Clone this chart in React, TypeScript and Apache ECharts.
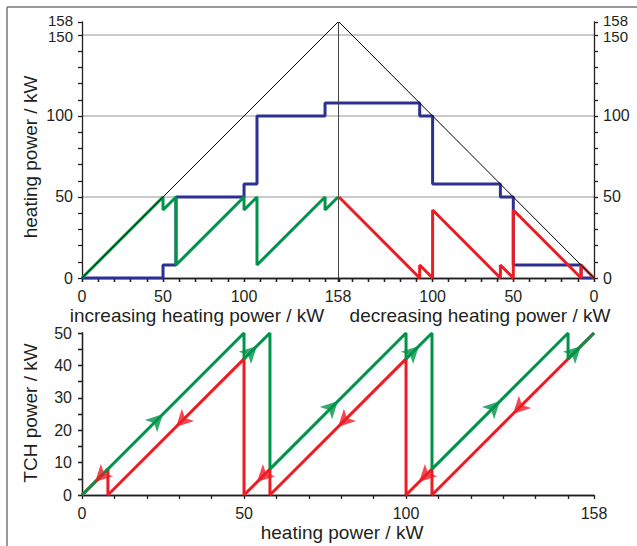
import React, { useEffect, useRef } from 'react';
import * as echarts from 'echarts';

// increasing heating power: TCH power (green) and other generators (blue)
const incX = [0, 50, 50, 58, 58, 100, 100, 108, 108, 150, 150, 158];
const incTCH = [0, 50, 42, 50, 8, 50, 42, 50, 8, 50, 42, 50];
const incOther = [0, 0, 8, 8, 50, 50, 58, 58, 100, 100, 108, 108];
// decreasing heating power: TCH power (red) and other generators (blue)
const decX = [158, 108, 108, 100, 100, 58, 58, 50, 50, 8, 8, 0];
const decTCH = [50, 0, 8, 0, 42, 0, 8, 0, 42, 0, 8, 0];
const decOther = [108, 108, 100, 100, 58, 58, 50, 50, 8, 8, 0, 0];
// total heating power diagonal
const diagX = [0, 158];
const diagY = [0, 158];

const topXLabelsLeft = [0, 50, 100, 158];
const topXLabelsRight = [100, 50, 0];
const topYLabels = [0, 50, 100];
const topY150Label = [150];
const topYMaxLabel = [158];
const topTicks = [0, 10, 20, 30, 40, 50, 60, 70, 80, 90, 100, 110, 120, 130, 140, 150, 158];
const topGridLines = [50, 100, 150];
const botXLabels = [0, 50, 100, 158];
const botYTicks = [0, 5, 10, 15, 20, 25, 30, 35, 40, 45, 50];

const GREEN = '#00934a';
const RED = '#ec1c24';
const BLUE = '#2b3192';
const TXT = '#231f20';
const FONT = 'Liberation Sans, Arial, Helvetica, sans-serif';

const zip = (xs: number[], ys: number[]) => xs.map((x, i) => [x, ys[i]]);

function arrows(xs: number[], ys: number[]) {
  const out: any[] = [];
  for (let i = 0; i < xs.length - 1; i++) {
    const dx = xs[i + 1] - xs[i];
    const dy = ys[i + 1] - ys[i];
    if (dx === 0) continue;
    const ang = (Math.atan2(dy, dx) * 180) / Math.PI;
    out.push({ value: [(xs[i] + xs[i + 1]) / 2, (ys[i] + ys[i + 1]) / 2], symbolRotate: ang - 90 });
  }
  return out;
}

const axisLineStyle = { color: '#231f20', width: 1.3 };

export default function App() {
  const ref = useRef<HTMLDivElement>(null);
  useEffect(() => {
    const chart = echarts.init(ref.current!, null, { renderer: 'svg' });
    const labelStyle = {
      color: TXT, fontSize: 16, fontFamily: FONT,
      hideOverlap: false, showMinLabel: true, showMaxLabel: true,
    };
    const tickOut = { show: true, length: 4, lineStyle: axisLineStyle };
    const tickIn = { show: true, length: 4, inside: true, lineStyle: axisLineStyle };
    const titleStyle = { fill: TXT, fontSize: 19, fontFamily: FONT, align: 'center', verticalAlign: 'middle' };
    const noAxis = { axisLine: { show: false }, axisTick: { show: false }, splitLine: { show: false } };
    const nudged = (values: number[], pad: number[]) => ({
      ...labelStyle, margin: 9, customValues: values,
      formatter: '{v|{value}}',
      rich: { v: { fontSize: 15, lineHeight: 15, fontFamily: FONT, color: TXT, padding: pad } },
    });

    const option: any = {
      animation: false,
      backgroundColor: '#fff',
      textStyle: { fontFamily: FONT },
      grid: [
        { left: 82, top: 22, width: 256, height: 256 },
        { left: 339, top: 22, width: 255, height: 256 },
        { left: 82, top: 333, width: 512, height: 162 },
      ],
      xAxis: [
        {
          gridIndex: 0, type: 'value', min: 0, max: 158, position: 'bottom',
          axisLine: { lineStyle: axisLineStyle },
          axisTick: { ...tickOut, customValues: topTicks },
          axisLabel: { ...labelStyle, margin: 10, customValues: topXLabelsLeft },
          splitLine: { show: false },
        },
        {
          gridIndex: 0, type: 'value', min: 0, max: 158, position: 'top',
          axisLine: { lineStyle: axisLineStyle },
          axisTick: { ...tickIn, customValues: topTicks },
          axisLabel: { show: false },
          splitLine: { show: false },
        },
        {
          gridIndex: 1, type: 'value', min: 0, max: 158, inverse: true, position: 'bottom',
          axisLine: { lineStyle: axisLineStyle },
          axisTick: { ...tickOut, customValues: topTicks },
          axisLabel: { ...labelStyle, margin: 10, customValues: topXLabelsRight },
          splitLine: { show: false },
        },
        {
          gridIndex: 1, type: 'value', min: 0, max: 158, inverse: true, position: 'top',
          axisLine: { lineStyle: axisLineStyle },
          axisTick: { ...tickIn, customValues: topTicks },
          axisLabel: { show: false },
          splitLine: { show: false },
        },
        {
          gridIndex: 2, type: 'value', min: 0, max: 158, position: 'bottom',
          axisLine: { lineStyle: axisLineStyle },
          axisTick: { ...tickOut, customValues: topTicks },
          axisLabel: { ...labelStyle, margin: 10, customValues: botXLabels },
          splitLine: { show: false },
        },
        {
          gridIndex: 2, type: 'value', min: 0, max: 158, position: 'top',
          axisLine: { lineStyle: axisLineStyle },
          axisTick: { show: false },
          axisLabel: { show: false },
          splitLine: { show: false },
        },
      ],
      yAxis: [
        {
          gridIndex: 0, type: 'value', min: 0, max: 158, position: 'left',
          axisLine: { show: true, lineStyle: axisLineStyle },
          axisTick: { ...tickOut, customValues: topTicks },
          axisLabel: { ...labelStyle, margin: 9, customValues: topYLabels },
          splitLine: { show: false },
        },
        {
          gridIndex: 1, type: 'value', min: 0, max: 158, position: 'right',
          axisLine: { show: true, lineStyle: axisLineStyle },
          axisTick: { ...tickOut, customValues: topTicks },
          axisLabel: { ...labelStyle, margin: 9, customValues: topYLabels },
          splitLine: { show: false },
        },
        {
          gridIndex: 2, type: 'value', min: 0, max: 50, interval: 10, position: 'left',
          axisLine: { show: true, lineStyle: axisLineStyle },
          axisTick: { ...tickOut, customValues: botYTicks },
          axisLabel: { ...labelStyle, margin: 10 },
          splitLine: { show: false },
        },
        {
          gridIndex: 2, type: 'value', min: 0, max: 50, interval: 10, position: 'right',
          axisLine: { show: true, lineStyle: axisLineStyle },
          axisTick: { ...tickIn, customValues: botYTicks },
          axisLabel: { show: false },
          splitLine: { show: false },
        },
        // 158 and 150 labels sit close together: separate axes to nudge them apart
        { gridIndex: 0, type: 'value', min: 0, max: 158, position: 'left', ...noAxis, axisLabel: nudged(topYMaxLabel, [0, 0, 4, 0]) },
        { gridIndex: 1, type: 'value', min: 0, max: 158, position: 'right', ...noAxis, axisLabel: nudged(topYMaxLabel, [0, 0, 4, 0]) },
        { gridIndex: 0, type: 'value', min: 0, max: 158, position: 'left', ...noAxis, axisLabel: nudged(topY150Label, [4, 0, 0, 0]) },
        { gridIndex: 1, type: 'value', min: 0, max: 158, position: 'right', ...noAxis, axisLabel: nudged(topY150Label, [4, 0, 0, 0]) },
      ],
      series: [
        // grid lines + separator, top panels (drawn below the curves)
        {
          type: 'line', xAxisIndex: 0, yAxisIndex: 0, data: [], silent: true, z: 0,
          markLine: {
            silent: true, symbol: 'none', label: { show: false }, z: 0,
            lineStyle: { color: '#b8b8b8', width: 1.5, type: 'solid' },
            data: [
              ...topGridLines.map((v) => ({ yAxis: v })),
              { xAxis: 158, lineStyle: { color: '#444', width: 1, type: 'solid' } },
            ],
          },
        },
        {
          type: 'line', xAxisIndex: 2, yAxisIndex: 1, data: [], silent: true, z: 0,
          markLine: {
            silent: true, symbol: 'none', label: { show: false }, z: 0,
            lineStyle: { color: '#b8b8b8', width: 1.5, type: 'solid' },
            data: topGridLines.map((v) => ({ yAxis: v })),
          },
        },
        // top-left panel
        { type: 'line', xAxisIndex: 0, yAxisIndex: 0, data: zip(incX, incOther), showSymbol: false, lineStyle: { color: BLUE, width: 3 }, z: 3 },
        { type: 'line', xAxisIndex: 0, yAxisIndex: 0, data: zip(incX, incTCH), showSymbol: false, lineStyle: { color: GREEN, width: 3 }, z: 3 },
        { type: 'line', xAxisIndex: 0, yAxisIndex: 0, data: zip(diagX, diagY), showSymbol: false, lineStyle: { color: '#000', width: 1 }, z: 5 },
        // top-right panel
        { type: 'line', xAxisIndex: 2, yAxisIndex: 1, data: zip(decX, decOther), showSymbol: false, lineStyle: { color: BLUE, width: 3 }, z: 3 },
        { type: 'line', xAxisIndex: 2, yAxisIndex: 1, data: zip(decX, decTCH), showSymbol: false, lineStyle: { color: RED, width: 3 }, z: 3 },
        { type: 'line', xAxisIndex: 2, yAxisIndex: 1, data: zip(diagX, diagY), showSymbol: false, lineStyle: { color: '#000', width: 1 }, z: 5 },
        // bottom panel
        { type: 'line', xAxisIndex: 4, yAxisIndex: 2, data: zip(decX, decTCH), showSymbol: false, lineStyle: { color: RED, width: 3 }, z: 3 },
        { type: 'line', xAxisIndex: 4, yAxisIndex: 2, data: zip(incX, incTCH), showSymbol: false, lineStyle: { color: GREEN, width: 3 }, z: 3 },
        { type: 'scatter', xAxisIndex: 4, yAxisIndex: 2, data: arrows(incX, incTCH), symbol: 'arrow', symbolSize: [13, 17], itemStyle: { color: GREEN }, z: 6 },
        { type: 'scatter', xAxisIndex: 4, yAxisIndex: 2, data: arrows(decX, decTCH), symbol: 'arrow', symbolSize: [13, 17], itemStyle: { color: RED }, z: 6 },
      ],
      graphic: [
        { type: 'line', shape: { x1: 7, y1: 7, x2: 637, y2: 7 }, style: { stroke: '#777', lineWidth: 1.5 } },
        { type: 'line', shape: { x1: 7, y1: 7, x2: 7, y2: 546 }, style: { stroke: '#777', lineWidth: 1.5 } },
        { type: 'text', x: 30, y: 157, rotation: Math.PI / 2, style: { text: 'heating power / kW', ...titleStyle } },
        { type: 'text', x: 30, y: 413, rotation: Math.PI / 2, style: { text: 'TCH power / kW', ...titleStyle } },
        { type: 'text', x: 197, y: 315, style: { text: 'increasing heating power / kW', ...titleStyle } },
        { type: 'text', x: 480, y: 315, style: { text: 'decreasing heating power / kW', ...titleStyle } },
        { type: 'text', x: 342, y: 532, style: { text: 'heating power / kW', ...titleStyle } },
      ],
    };
    chart.setOption(option);
    return () => chart.dispose();
  }, []);
  return <div ref={ref} style={{ position: 'absolute', left: 0, top: 0, width: 637, height: 546 }} />;
}
